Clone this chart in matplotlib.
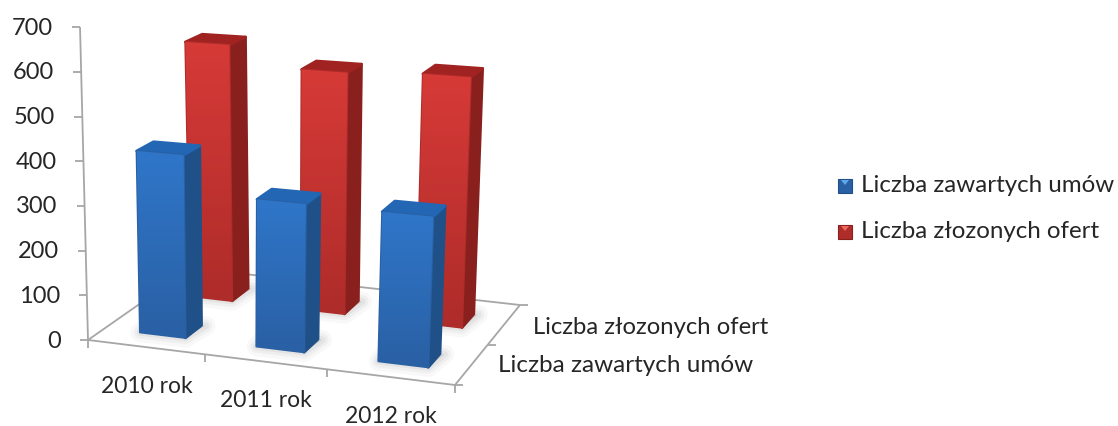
import numpy as np
import matplotlib
matplotlib.use("Agg")
import matplotlib.pyplot as plt
from matplotlib.colors import LinearSegmentedColormap
from matplotlib.patches import Polygon

plt.rcParams['font.family'] = ['Lato', 'DejaVu Sans']

categories = ["2010 rok", "2011 rok", "2012 rok"]
series_names = ["Liczba zawartych umów", "Liczba złozonych ofert"]
umowy = [410, 326, 325]
oferty = [605, 559, 569]
y_ticks = [0, 100, 200, 300, 400, 500, 600, 700]

TEXT = "#262626"
AXIS = "#a6a6a6"
BLUE = dict(top="#2f76c9", bottom="#2a60a4", side="#1f5088", roof="#2266b4")
RED = dict(top="#d63a37", bottom="#ae2c2a", side="#8a201d", roof="#a02321")

# floor corners of the 3d box, in figure pixels
FL, FR = np.array([88.0, 340.0]), np.array([455.0, 385.0])
BL, BR = np.array([191.0, 268.0]), np.array([520.0, 305.0])


def project(a, b, val=0.0):
    """a: along categories 0-1, b: along series 0-1, val: chart value"""
    w = a - 0.07 * a * (1 - a)  # near end of the box looks wider
    floor = (1 - b) * (FL + w * (FR - FL)) + b * (BL + w * (BR - BL))
    k = 0.447 * (1 + 0.06 * a) * (1 - 0.10 * b)
    return floor + np.array([(-0.0114 + 0.03 * a) * val, -k * val])


def gradient_face(ax, pts, c_top, c_bottom, z):
    cmap = LinearSegmentedColormap.from_list("f", [c_top, c_bottom])
    pts = np.array(pts)
    im = ax.imshow(np.linspace(0, 1, 64).reshape(-1, 1), cmap=cmap, aspect="auto", zorder=z,
                   extent=[pts[:, 0].min(), pts[:, 0].max(), pts[:, 1].max(), pts[:, 1].min()])
    im.set_clip_path(Polygon(pts, transform=ax.transData))


def draw_bar(ax, i, j, val, col, z):
    du, dv = (0.066 if j == 0 else 0.064), 0.085
    a0, a1 = (i + 0.5) / 3 - du + 0.003, (i + 0.5) / 3 + du + 0.003
    b0, b1 = (j + 0.5) / 2 - dv, (j + 0.5) / 2 + dv
    # soft shadow on the floor
    shadow = [project(a0, b0), project(a1, b0), project(a1 + 0.012, b1), project(a0, b1)]
    for lw, al in [(14, 0.05), (9, 0.07), (5, 0.09)]:
        ax.add_patch(Polygon(shadow, closed=True, fc="#808080", ec="#808080", lw=lw, alpha=al,
                             joinstyle="round", zorder=z))
    side = [project(a1, b0), project(a1, b1), project(a1, b1, val), project(a1, b0, val)]
    roof = [project(a0, b0, val), project(a1, b0, val), project(a1, b1, val), project(a0, b1, val)]
    front = [project(a0, b0), project(a1, b0), project(a1, b0, val), project(a0, b0, val)]
    for pts, c in [(side, col["side"]), (roof, col["roof"])]:
        ax.add_patch(Polygon(pts, closed=True, fc=c, ec=c, lw=2, joinstyle="round", zorder=z + 0.1))
    ax.add_patch(Polygon(front, closed=True, fc=col["bottom"], ec=col["bottom"], lw=1.5,
                         joinstyle="round", zorder=z + 0.2))
    gradient_face(ax, front, col["top"], col["bottom"], z + 0.3)


fig = plt.figure(figsize=(11.18, 4.26), dpi=100)
ax = fig.add_axes([0, 0, 1, 1])
ax.axis("off")

# box lines
line = dict(color=AXIS, lw=1.3, zorder=1, solid_capstyle="butt")
for p, q in [(FL, project(0, 0, 700)), (FL, FR), (FL, BL), (BL, BR), (FR, BR)]:
    ax.plot([p[0], q[0]], [p[1], q[1]], **line)

# y axis
for v in y_ticks:
    p = project(0, 0, v)
    ax.plot([p[0] - 8, p[0]], [p[1], p[1]], **line)
    ax.text(p[0] - 27, p[1] + 1, str(v), ha="right", va="center", fontsize=17, color=TEXT)

# category axis
for i in range(len(categories) + 1):
    p = project(i / 3, 0)
    ax.plot([p[0], p[0]], [p[1], p[1] + 8], **line)
for i, name in enumerate(categories):
    p = project((i + 0.5) / 3, 0)
    ax.text(p[0] + 1, p[1] + 39, name, ha="center", va="center", fontsize=16.5, color=TEXT)

# series axis
for j in range(len(series_names) + 1):
    p = project(1, j / 2)
    ax.plot([p[0], p[0] + 8], [p[1], p[1]], **line)
p = project(1, 0.25)
ax.text(p[0] + 27, p[1] + 1, series_names[0], ha="left", va="center", fontsize=17.5, color=TEXT)
p = project(1, 0.75)
ax.text(p[0] + 29, p[1] + 3, series_names[1], ha="left", va="center", fontsize=17.2, color=TEXT)

for i, val in enumerate(oferty):
    draw_bar(ax, i, 1, val, RED, 2 + i)
for i, val in enumerate(umowy):
    draw_bar(ax, i, 0, val, BLUE, 6 + i)

# legend
for name, col, y in zip(series_names, [BLUE, RED], [186, 232]):
    ax.add_patch(Polygon([(838, y - 7), (852, y - 7), (852, y + 7), (838, y + 7)], closed=True,
                         fc=col["bottom"], ec=col["side"], lw=0.8, zorder=12))
    ax.add_patch(Polygon([(841, y - 6), (849, y - 6), (845, y - 1)], closed=True,
                         fc="#5fa8ea" if col is BLUE else "#ee6a60", ec="none", zorder=13))
    ax.text(861, y, name, ha="left", va="center", fontsize=17.4, color=TEXT)

ax.set_xlim(0, 1118)
ax.set_ylim(426, 0)
fig.savefig("out.png", dpi=100, facecolor="white")
